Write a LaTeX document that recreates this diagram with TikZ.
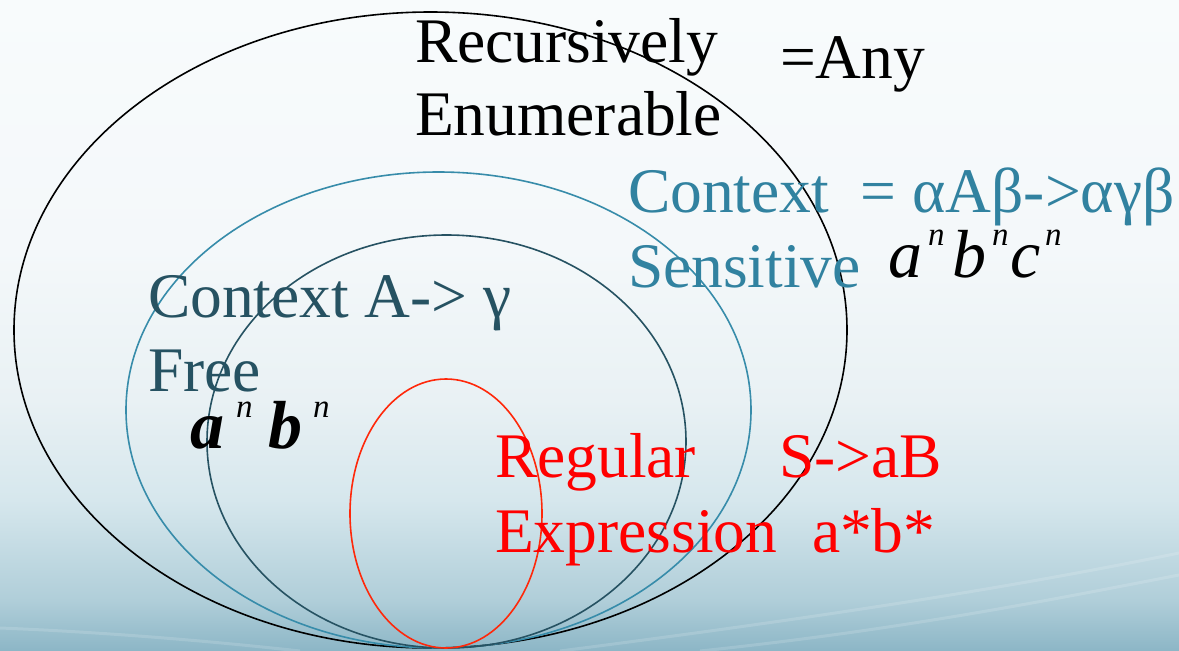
\documentclass[tikz,border=0pt]{standalone}
\usepackage{fontspec}
\setmainfont{Liberation Serif}
\usetikzlibrary{shapes.geometric}
\definecolor{b0}{RGB}{140,182,198}
\definecolor{b1}{RGB}{176,206,217}
\definecolor{b2}{RGB}{214,231,237}
\definecolor{b3}{RGB}{233,241,244}
\definecolor{b4}{RGB}{244,248,250}
\definecolor{b5}{RGB}{248,251,252}
\definecolor{ccs}{RGB}{55,140,170}
\definecolor{ccstext}{RGB}{49,130,160}
\definecolor{ccf}{RGB}{38,82,98}
\definecolor{creg}{RGB}{255,40,10}
\pgfdeclareverticalshading{slidebg}{100bp}{color(0bp)=(b0); color(25bp)=(b0); color(28.9bp)=(b1); color(36.6bp)=(b2); color(44.3bp)=(b3); color(55.8bp)=(b4); color(75bp)=(b5); color(100bp)=(b5)}
\newcommand\mysupn[1]{\raisebox{#1}{\fontsize{33}{33}\selectfont n}}
\newcommand\gl[2]{\makebox[#1][l]{#2}}
\begin{document}
\begin{tikzpicture}[x=1pt,y=-1pt,
  set/.style={ellipse, inner sep=0pt, outer sep=0pt, line width=1.6pt},
  streak/.style={white, opacity=0.15, line width=3pt},
  lbl/.style={anchor=base west, inner sep=0pt, outer sep=0pt, font=\fontsize{63.5}{73}\selectfont}]
\shade[shading=slidebg] (0,0) rectangle (1179,651);
\useasboundingbox (0,0) rectangle (1179,651);
\draw[streak] (560,651) .. controls (800,620) and (1000,590) .. (1179,553);
\draw[streak] (700,651) .. controls (900,630) and (1050,600) .. (1179,575);
\draw[streak] (0,628) .. controls (100,632) and (200,640) .. (300,651);
\node[set, draw=black, minimum width=833pt, minimum height=636pt] (re) at (430.5,330) {};
\node[set, draw=ccs, minimum width=625pt, minimum height=476pt] (cs) at (438.5,410) {};
\node[set, draw=ccf, minimum width=479pt, minimum height=413pt] (cf) at (446.5,441.5) {};
\node[set, draw=creg, minimum width=192pt, minimum height=269pt] (reg) at (446,513.5) {};
\node[lbl] (t1) at (415,62) {Recursively};
\node[lbl] (t2) at (415,135) {Enumerable};
\node[lbl] (t3) at (780,78) {=Any};
\node[lbl, text=ccstext] (t4) at (628,212) {Context\ \ = αAβ->αγβ};
\node[lbl, text=ccstext] (t5) at (628,287) {Sensitive};
\node[lbl, font=\fontsize{68}{73}\selectfont] (t13) at (888,277) {\itshape
  \gl{40pt}{a}\gl{24pt}{\mysupn{32pt}}\gl{40pt}{b}\gl{18pt}{\mysupn{32pt}}\gl{35pt}{c}\mysupn{32pt}};
\node[lbl, text=ccf] (t6) at (148,317) {Context A-> γ};
\node[lbl, text=ccf] (t7) at (148,391) {Free};
\node[lbl, font=\fontsize{68}{73}\selectfont] (t8) at (190,448) {\bfseries\itshape
  \gl{46pt}{a}\gl{32pt}{\mdseries\mysupn{31pt}}\gl{45pt}{b}{\mdseries\mysupn{31pt}}};
\node[lbl, text=red] (t9) at (495,477) {Regular};
\node[lbl, text=red] (t10) at (779,477) {S->aB};
\node[lbl, text=red] (t11) at (495,552) {Expression};
\node[lbl, text=red] (t12) at (812,552) {a*b*};
\end{tikzpicture}
\end{document}
